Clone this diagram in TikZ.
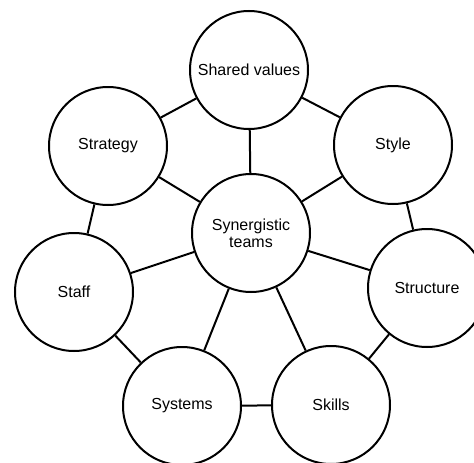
\documentclass[tikz,border=0pt]{standalone}
\usepackage{fontspec}
\setmainfont{Liberation Sans}
\usetikzlibrary{positioning}

\tikzset{
  element/.style={draw, circle, line width=2pt, minimum size=118pt, inner sep=0pt, align=center, font=\fontsize{16}{17}\selectfont},
  link/.style={line width=2pt}
}

\begin{document}
\begin{tikzpicture}[x=1pt, y=-1pt]
        \clip (0,0) rectangle (474,463);
        \useasboundingbox (0,0) rectangle (474,463);
        \node [element] (teams) at (251,233) {Synergistic\\teams};
        \node [element] (values) at (249,70) {Shared values};
        \node [element] (strategy) at (108,146) {Strategy};
        \node [element] (style) at (393,145) {Style};
        \node [element] (staff) at (74,292) {Staff};
        \node [element] (structure) at (427,288) {Structure};
        \node [element] (systems) at (182,406) {Systems};
        \node [element] (skills) at (331,405) {Skills};
        % ring
        \draw [link] (values) -- (style);
        \draw [link] (style) -- (structure);
        \draw [link] (structure) -- (skills);
        \draw [link] (skills) -- (systems);
        \draw [link] (systems) -- (staff);
        \draw [link] (staff) -- (strategy);
        \draw [link] (strategy) -- (values);
        % spokes
        \foreach \n in {values, style, structure, skills, systems, staff, strategy}
          \draw [link] (teams) -- (\n);
      \end{tikzpicture}
\end{document}
